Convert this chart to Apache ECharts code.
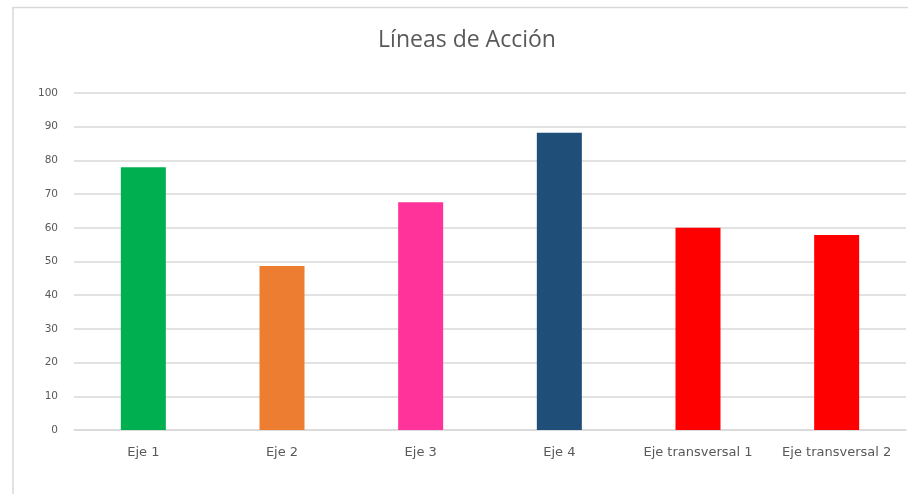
<!DOCTYPE html>
<html>
<head>
<meta charset="utf-8">
<script src="https://cdn.jsdelivr.net/npm/echarts@6/dist/echarts.min.js"></script>
<style>
html,body{margin:0;padding:0;background:#fff;}
#chart{width:908px;height:494px;}
</style>
</head>
<body>
<div id="chart"></div>
<script>
const titleText = 'Líneas de Acción';
const categories = ['Eje 1', 'Eje 2', 'Eje 3', 'Eje 4', 'Eje transversal 1', 'Eje transversal 2'];
const values = [78, 48.7, 67.6, 88.2, 60, 57.9];
const barColors = ['#00b050', '#ed7d31', '#ff3399', '#1f4e79', '#ff0000', '#ff0000'];
const yTicks = [0, 10, 20, 30, 40, 50, 60, 70, 80, 90, 100];

const chart = echarts.init(document.getElementById('chart'));
chart.setOption({
  animation: false,
  title: {
    text: titleText,
    left: 462, top: 24, textAlign: 'center',
    textStyle: { fontFamily: 'Open Sans', fontSize: 23, fontWeight: 'normal', color: '#595959' }
  },
  graphic: [{
    type: 'rect',
    shape: { x: 13, y: 7.5, width: 920, height: 520 },
    style: { fill: 'none', stroke: '#d9d9d9', lineWidth: 1.5 }
  }],
  grid: { left: 74, right: 2, top: 93, bottom: 64 },
  xAxis: {
    type: 'category',
    data: categories,
    axisLine: { lineStyle: { color: '#d9d9d9', width: 1.5 } },
    axisTick: { show: false },
    axisLabel: { color: '#595959', fontFamily: 'DejaVu Sans', fontSize: 13, margin: 16, interval: 0, hideOverlap: false }
  },
  yAxis: {
    type: 'value',
    min: yTicks[0], max: yTicks[yTicks.length - 1], interval: 10,
    axisLine: { show: false },
    axisTick: { show: false },
    splitLine: { lineStyle: { color: '#d9d9d9', width: 1.5 } },
    axisLabel: { color: '#595959', fontFamily: 'DejaVu Sans', fontSize: 10.5, margin: 16 }
  },
  series: [{
    type: 'bar',
    data: values.map((v, i) => ({ value: v, itemStyle: { color: barColors[i] } })),
    barWidth: 45
  }]
});
</script>
</body>
</html>
